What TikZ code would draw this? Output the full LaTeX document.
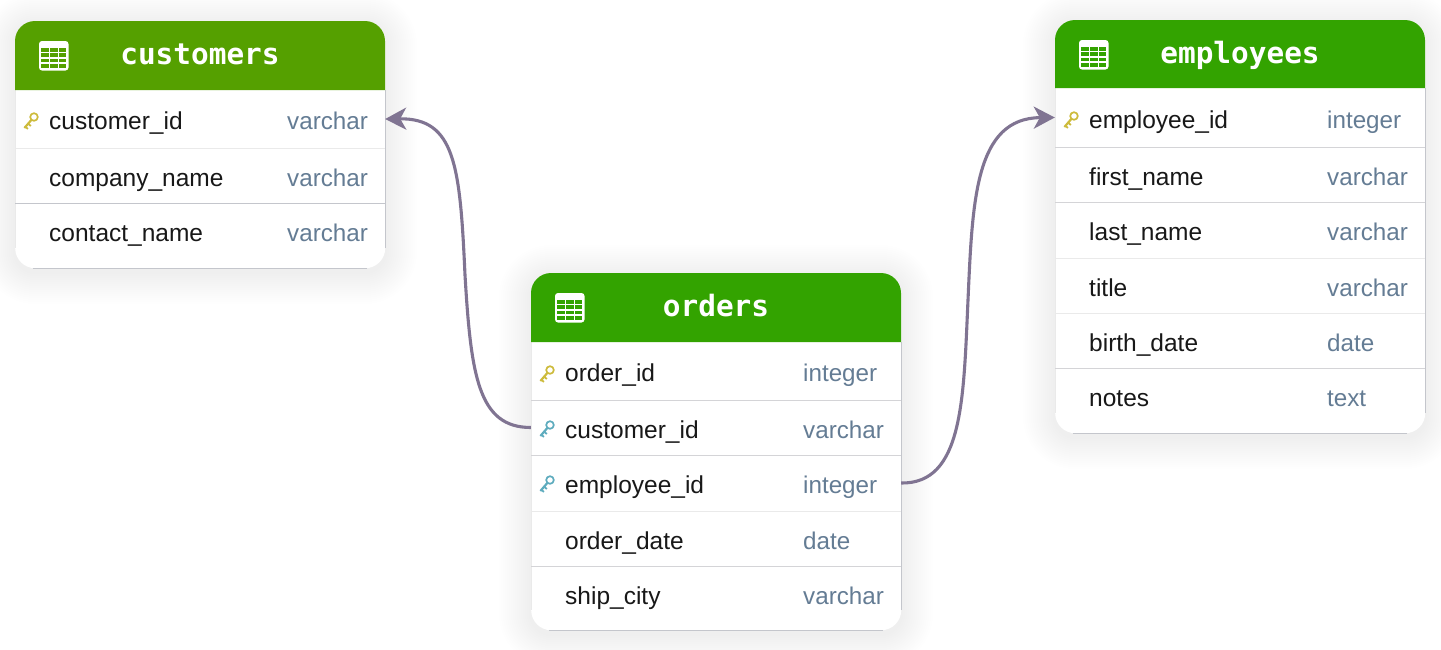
\documentclass[tikz,border=0pt]{standalone}
\usepackage{fontspec}
\setmainfont{Liberation Sans}
\newfontfamily\titlefont{DejaVu Sans Mono}[BoldFont={DejaVu Sans Mono Bold}]
\usetikzlibrary{arrows.meta,calc}
\definecolor{hdrolive}{RGB}{85,160,0}
\definecolor{hdrgreen}{RGB}{51,163,0}
\definecolor{typeblue}{RGB}{100,124,148}
\definecolor{inkblack}{RGB}{24,24,24}
\definecolor{linkpurple}{RGB}{128,116,146}
\definecolor{keygold}{RGB}{205,187,60}
\definecolor{keyteal}{RGB}{94,172,190}
\definecolor{seplight}{RGB}{234,234,234}
\definecolor{sepmid}{RGB}{212,212,215}
\definecolor{edgegray}{RGB}{196,198,204}
\tikzset{
  x=1pt,y=-1pt,
  rowbox/.style={rectangle,inner sep=0pt,minimum width=370pt},
  fieldname/.style={anchor=base west,inner sep=0pt,text=inkblack,font=\fontsize{24.5}{28}\selectfont},
  fieldtype/.style={anchor=base west,inner sep=0pt,text=typeblue,font=\fontsize{24.2}{28}\selectfont},
  tabletitle/.style={inner sep=0pt,anchor=base,text=white,font=\titlefont\bfseries\fontsize{29.4}{32}\selectfont},
  tablebody/.style={rectangle,fill=white,rounded corners=20pt,inner sep=0pt,anchor=north west},
  relation/.style={linkpurple,line width=3.1pt,-{Stealth[length=21pt,width=22pt,inset=6pt]}},
}
% #1 name #2 x #3 y top #4 y bottom #5 y header bottom #6 colour #7 title #8 title baseline
\newcommand\dbtable[8]{%
  \foreach \s in {1,...,16}{
    \pgfmathsetmacro\shr{20+\s*2}
    \fill[black,opacity=.0055,rounded corners=\shr pt] (#2-\s*2,#3+4-\s*2) rectangle (#2+370+\s*2,#4+4+\s*2);
  }
  \pgfmathsetmacro\tblh{#4-#3}
  \node[tablebody,minimum width=370pt,minimum height=\tblh pt] (#1) at (#2,#3) {};
  \draw[edgegray,line width=.8pt] (#2+370,#5) -- (#2+370,#4-20);
  \draw[seplight,line width=.8pt] (#2,#5) -- (#2,#4-20);
  \draw[edgegray,line width=.9pt] (#2+18,#4) -- (#2+352,#4);
  \fill[#6] (#2,#5) -- (#2,#3+20) arc[start angle=180,end angle=90,radius=20pt]
     -- (#2+350,#3) arc[start angle=90,end angle=0,radius=20pt] -- (#2+370,#5) -- cycle;
  \node[tabletitle] (#1-title) at (#2+185,#8) {#7};
  \begin{scope}[shift={(#2+24,#3+20)}]
    \fill[white,rounded corners=3pt] (0,0) rectangle (29.5,29.5);
    \foreach \c in {0,1,2}{\foreach \r in {0,1,2,3}{
      \fill[#6] (2.0+\c*8.9,6.8+\r*5.35) rectangle +(7.6,3.9);
    }}
  \end{scope}
}
% #1 name #2 x #3 y top #4 height #5 sep colour #6 label #7 type
\newcommand\dbrow[7]{%
  \pgfmathsetmacro\rowc{#3+#4/2}
  \node[rowbox,minimum height=#4 pt] (#1) at (#2+185,\rowc) {};
  \node[fieldname] (#1-name) at (#2+34,#3+#4/2+10.6) {#6};
  \node[fieldtype] (#1-type) at (#2+272,#3+#4/2+10.6) {#7};
  \draw[#5,line width=1pt] (#2,#3+#4) -- (#2+370,#3+#4);
}
\newcommand\lastrow[6]{%
  \pgfmathsetmacro\rowc{#3+#4/2}
  \node[rowbox,minimum height=#4 pt] (#1) at (#2+185,\rowc) {};
  \node[fieldname] (#1-name) at (#2+34,#3+#4/2+10.6) {#5};
  \node[fieldtype] (#1-type) at (#2+272,#3+#4/2+10.6) {#6};
}
% #1 x of ring, #2 y of ring, #3 colour
\newcommand\keyicon[3]{%
  \begin{scope}[shift={(#1,#2)}]
    \draw[#3,line width=1.7pt] (0,0) circle[radius=3.8pt];
    \draw[#3,line width=2.2pt] (-2.6,2.9) -- (-9.6,11);
    \draw[#3,line width=1.8pt] (-5.8,6.6) -- (-3.2,9) (-8.6,9.6) -- (-6.2,12);
  \end{scope}
}
\begin{document}
\begin{tikzpicture}
\useasboundingbox (0,0) rectangle (1441,649);
\fill[white] (0,0) rectangle (1441,649);

\dbtable{customers}{15}{21}{268}{90}{hdrolive}{customers}{64}
\dbrow{cId}{15}{90}{58}{seplight}{customer\_id}{varchar}
\dbrow{cCompany}{15}{148}{55}{edgegray}{company\_name}{varchar}
\lastrow{cContact}{15}{203}{55}{contact\_name}{varchar}
\keyicon{34}{117}{keygold}

\dbtable{employees}{1055}{20}{433}{88}{hdrgreen}{employees}{63}
\dbrow{eId}{1055}{88}{59}{sepmid}{employee\_id}{integer}
\dbrow{eFirst}{1055}{147}{55}{sepmid}{first\_name}{varchar}
\dbrow{eLast}{1055}{202}{56}{seplight}{last\_name}{varchar}
\dbrow{eTitle}{1055}{258}{55}{seplight}{title}{varchar}
\dbrow{eBirth}{1055}{313}{55}{sepmid}{birth\_date}{date}
\lastrow{eNotes}{1055}{368}{55}{notes}{text}
\keyicon{1074}{116}{keygold}

\dbtable{orders}{531}{273}{630}{342}{hdrgreen}{orders}{316}
\dbrow{oId}{531}{342}{58}{sepmid}{order\_id}{integer}
\dbrow{oCust}{531}{400}{55}{sepmid}{customer\_id}{varchar}
\dbrow{oEmp}{531}{455}{56}{seplight}{employee\_id}{integer}
\dbrow{oDate}{531}{511}{55}{sepmid}{order\_date}{date}
\lastrow{oCity}{531}{566}{55}{ship\_city}{varchar}
\keyicon{550}{370}{keygold}
\keyicon{550}{425}{keyteal}
\keyicon{550}{480}{keyteal}

\coordinate (bendc) at (465,275);
\coordinate (bende) at (968,300);
\draw[relation] (oCust.west) .. controls (478,427.5) and (471,375) .. (bendc)
   .. controls (460,165) and (455,118) .. (cId.east);
\draw[relation] (oEmp.east) .. controls (963,484) and (963.5,400) .. (bende)
   .. controls (972.5,200) and (975,118) .. (eId.west);
\end{tikzpicture}
\end{document}
